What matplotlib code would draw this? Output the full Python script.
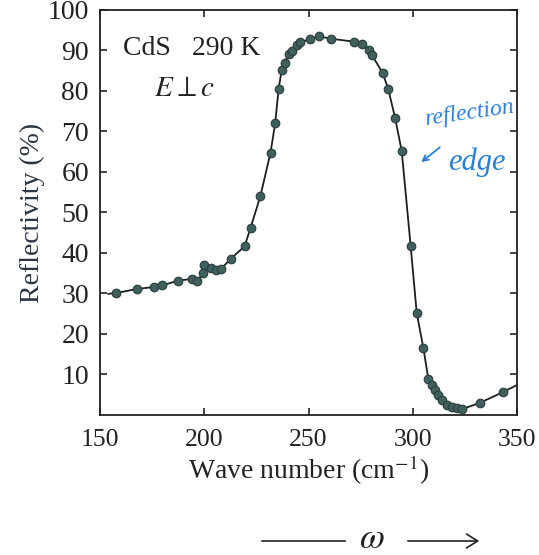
import matplotlib
matplotlib.use("Agg")
import matplotlib.pyplot as plt

plt.rcParams['font.family'] = ['Liberation Serif', 'DejaVu Serif']
plt.rcParams['mathtext.fontset'] = 'stix'

# Measured reflectivity points (wave number in cm^-1, reflectivity in %)
wave_number = [157.6, 167.6, 175.9, 179.9, 187.6, 194.3, 196.7, 199.5, 200.1, 203.0,
               205.4, 208.1, 212.6, 219.4, 222.2, 226.9, 231.8, 234.0, 235.7, 237.1,
               238.5, 240.5, 242.1, 244.3, 246.1, 250.6, 255.0, 260.8, 271.6, 275.6,
               278.8, 280.4, 285.6, 288.3, 291.5, 294.7, 299.0, 301.9, 305.1, 307.5,
               309.1, 310.7, 312.3, 313.9, 316.3, 318.7, 321.1, 323.5, 332.2, 343.1]
reflectivity = [30.1, 31.1, 31.6, 32.0, 33.2, 33.6, 33.0, 35.1, 37.1, 36.3,
                35.7, 36.1, 38.5, 41.7, 46.2, 54.0, 64.8, 72.0, 80.6, 85.1,
                87.0, 89.1, 89.9, 91.3, 92.0, 92.8, 93.5, 92.9, 92.2, 91.7,
                90.2, 88.9, 84.4, 80.4, 73.4, 65.2, 41.7, 25.2, 16.5, 8.8,
                7.4, 6.2, 5.0, 3.7, 2.5, 1.9, 1.7, 1.4, 3.0, 5.6]

# Fitted curve ends (extend beyond the data)
curve_start = (154.0, 29.9)
curve_end = (350.0, 7.4)

x_ticks = [150, 200, 250, 300, 350]
y_ticks = [10, 20, 30, 40, 50, 60, 70, 80, 90, 100]

fig = plt.figure(figsize=(5.39, 5.55), dpi=100)
ax = fig.add_axes([100 / 539, 0.2523, 417 / 539, 0.7297])

curve_x = [curve_start[0]] + wave_number + [curve_end[0]]
curve_y = [curve_start[1]] + reflectivity + [curve_end[1]]
ax.plot(curve_x, curve_y, color='#1a1f1f', lw=1.3, zorder=2)
ax.plot(wave_number, reflectivity, 'o', color='#40605e', mec='#2a3c3b',
        mew=0.8, ms=6.2, zorder=3)

ax.set_xlim(150, 350)
ax.set_ylim(0, 100)
ax.set_xticks(x_ticks)
ax.set_yticks(y_ticks)
ax.tick_params(direction='in', length=5, width=1.2, top=True, right=True,
               labelsize=20, colors='#222222', pad=8)
ax.tick_params(axis='x', pad=10, labelsize=18.5)
for s in ax.spines.values():
    s.set_linewidth(1.3)
    s.set_color('#222222')

ax.set_xlabel('Wave number (cm$^{-1}$)', fontsize=20, color='#222222', labelpad=2)
ax.set_ylabel('Reflectivity (%)', fontsize=20, color='#2a3440', labelpad=2)

ax.text(0.055, 0.905, 'CdS   290 K', transform=ax.transAxes, fontsize=20,
        color='#222222', ha='left', va='center')
ax.text(0.13, 0.805, '$E \\perp c$', transform=ax.transAxes, fontsize=21,
        color='#222222', ha='left', va='center')

# handwritten annotation
ax.text(0.775, 0.745, 'reflection', transform=ax.transAxes, fontsize=17,
        color='#2a7fd6', ha='left', va='center', style='italic', rotation=8)
ax.text(0.835, 0.625, 'edge', transform=ax.transAxes, fontsize=22,
        color='#2a7fd6', ha='left', va='center', style='italic')
ax.annotate('', xy=(0.765, 0.62), xytext=(0.82, 0.665), xycoords='axes fraction',
            arrowprops=dict(arrowstyle='->', color='#2a7fd6', lw=1.3))

# bottom hand-drawn omega arrow
fig.add_artist(plt.Line2D([262 / 539, 345 / 539], [1 - 541 / 555, 1 - 541 / 555],
                          color='#222222', lw=1.2))
fig.text(372 / 539, 1 - 540 / 555, '$\\omega$', fontsize=26, color='#222222',
         ha='center', va='center', style='italic')
fig.add_artist(matplotlib.patches.FancyArrowPatch(
    (405 / 539, 1 - 541 / 555), (482 / 539, 1 - 541 / 555),
    transform=fig.transFigure, arrowstyle='->,head_length=8,head_width=5',
    color='#222222', lw=1.2))

fig.savefig('out.png', dpi=100)
